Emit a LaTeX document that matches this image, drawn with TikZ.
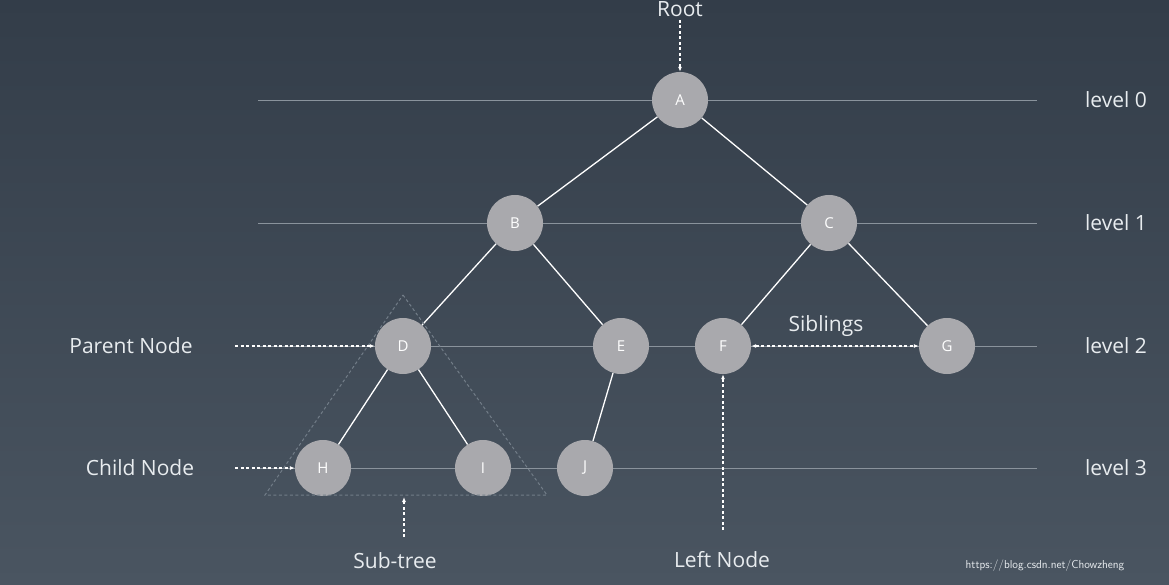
\documentclass[tikz,border=0pt]{standalone}
\usepackage{fontspec}
\setmainfont{Open Sans}
\usetikzlibrary{arrows.meta}
\definecolor{bgtop}{HTML}{333D49}
\definecolor{bgbot}{HTML}{4A5561}
\definecolor{nodefill}{HTML}{A9A9AD}
\definecolor{lvl}{HTML}{8A939C}
\definecolor{txt}{HTML}{E8ECEF}
\begin{document}
\begin{tikzpicture}[x=1pt,y=-1pt,
  tn/.style={circle,fill=nodefill,minimum size=56pt,inner sep=0pt,text=white,font=\fontsize{15}{18}\selectfont},
  edge/.style={white,line width=1.3pt},
  lv/.style={lvl,line width=0.9pt},
  lab/.style={text=txt,font=\fontsize{21}{25}\selectfont},
  dar/.style={white,line width=1.2pt,dash pattern=on 3pt off 2.5pt,-{Latex[length=5pt,width=4pt]}}]
\shade[top color=bgtop,bottom color=bgbot] (0,0) rectangle (1169,585);
\useasboundingbox (0,0) rectangle (1169,585);
\foreach \y in {100,223,346,468} \draw[lv] (258,\y) -- (1037,\y);
\node[tn] (A) at (680,100) {A};
\node[tn] (B) at (515,223) {B};
\node[tn] (C) at (829,223) {C};
\node[tn] (D) at (403,346) {D};
\node[tn] (E) at (621,346) {E};
\node[tn] (F) at (723,346) {F};
\node[tn] (G) at (947,346) {G};
\node[tn] (H) at (323,468) {H};
\node[tn] (I) at (483,468) {I};
\node[tn] (J) at (585,468) {J};
\draw[edge] (A)--(B); \draw[edge] (A)--(C);
\draw[edge] (B)--(D); \draw[edge] (B)--(E);
\draw[edge] (C)--(F); \draw[edge] (C)--(G);
\draw[edge] (D)--(H); \draw[edge] (D)--(I);
\draw[edge] (E)--(J);
\draw[lvl!120,line width=1pt,dash pattern=on 3pt off 2.5pt] (403,295) -- (547,495) -- (265,495) -- cycle;
\node[lab] (l0) at (1116,100) {level 0};
\node[lab] (l1) at (1116,223) {level 1};
\node[lab] (l2) at (1116,346) {level 2};
\node[lab] (l3) at (1116,468) {level 3};
\node[lab,anchor=south] (root) at (680,20) {Root};
\draw[dar] (root.south) -- (A.north);
\node[lab] (pn) at (131,346) {Parent Node};
\coordinate (pa) at (235,346);
\draw[dar] (pa) -- (D.west);
\node[lab] (cn) at (140,468) {Child Node};
\coordinate (ca) at (235,468);
\draw[dar] (ca) -- (H.west);
\node[lab] (st) at (395,561) {Sub-tree};
\coordinate (sa) at (404,537);
\coordinate (sb) at (404,497);
\draw[dar] (sa) -- (sb);
\node[lab] (ln) at (722,560) {Left Node};
\coordinate (la) at (723,530);
\draw[dar] (la) -- (F.south);
\node[lab] (sib) at (826,326) {Siblings};
\draw[dar,{Latex[length=5pt,width=4pt]}-{Latex[length=5pt,width=4pt]}] (F.east) -- (G.west);
\node[text=txt,font=\fontsize{11.5}{14}\selectfont\sffamily] (wm) at (1045,566) {https://blog.csdn.net/Chowzheng};
\end{tikzpicture}
\end{document}
